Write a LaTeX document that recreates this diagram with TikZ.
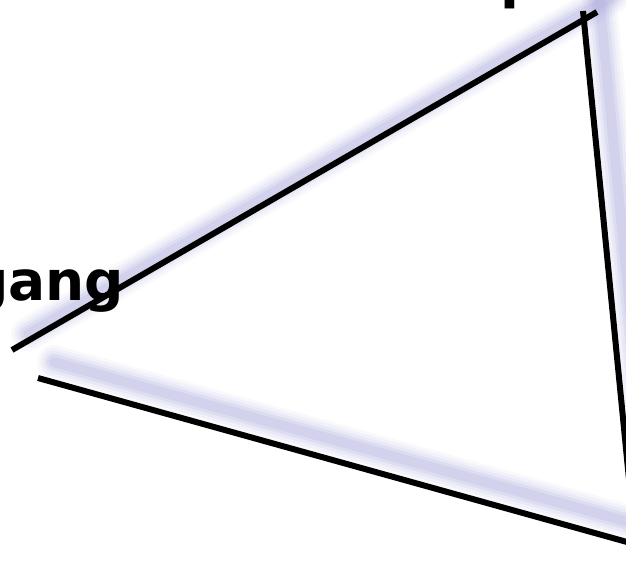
\documentclass[tikz,border=0pt]{standalone}
\usepackage{fontspec}
\newfontfamily\labelfont{DejaVu Sans}
\usetikzlibrary{calc}
\definecolor{shadowcol}{RGB}{165,165,218}
\tikzset{
  edge/.style={line width=6pt, black, line cap=butt},
  lbl/.style={anchor=base west, inner sep=0pt, text=black, font=\labelfont\bfseries\fontsize{55}{55}\selectfont},
}
\newcommand{\softshadow}[2]{%
  \foreach \w/\o in {34/0.07, 28/0.09, 22/0.12, 16/0.16, 10/0.2}{%
    \draw[shadowcol, line width=\w pt, opacity=\o, line cap=round]
      ($(#1)+(16,-16)$) -- ($(#2)+(16,-16)$);
  }%
}
\begin{document}
\begin{tikzpicture}[x=1pt,y=-1pt]
\useasboundingbox (0,0) rectangle (626,560);
\clip (0,0) rectangle (626,560);
\coordinate (A1) at (12,350);
\coordinate (A2) at (597,12);
\coordinate (B1) at (583,11);
\coordinate (B2) at (633,520);
\coordinate (C1) at (38,378);
\coordinate (C2) at (645,547);
% shadows
\softshadow{A1}{A2}
\softshadow{B1}{B2}
\softshadow{C1}{C2}
% labels
\node[lbl] (gang) at (-31,300) {gang};
\node[lbl] (ptxt) at (500,-3) {p};
% lines
\draw[edge] (A1) -- (A2);
\draw[edge] (B1) -- (B2);
\draw[edge] (C1) -- (C2);
\end{tikzpicture}
\end{document}
